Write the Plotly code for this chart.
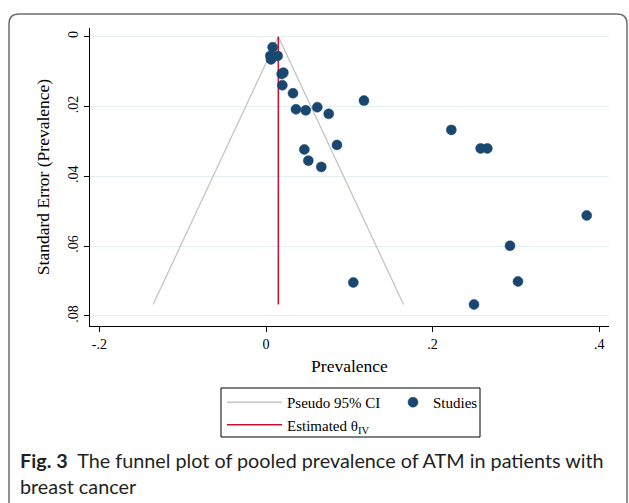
import plotly.graph_objects as go

# ---- data ----
prevalence = [0.0080, 0.0052, 0.0060, 0.0140, 0.0188, 0.0208, 0.0196, 0.0324, 0.0360,
              0.0477, 0.0616, 0.0753, 0.1176, 0.0460, 0.0508, 0.0664, 0.0852, 0.2225,
              0.2577, 0.2657, 0.3850, 0.2929, 0.1048, 0.3025, 0.2497]
std_error = [0.0030, 0.0055, 0.0065, 0.0055, 0.0107, 0.0103, 0.0139, 0.0162, 0.0208,
             0.0211, 0.0202, 0.0221, 0.0183, 0.0323, 0.0355, 0.0373, 0.0310, 0.0267,
             0.0320, 0.0320, 0.0512, 0.0599, 0.0704, 0.0701, 0.0767]
theta_iv = 0.0148
x_ticks = [-0.2, 0, 0.2, 0.4]
x_ticklabels = ["-.2", "0", ".2", ".4"]
y_ticks = [0, 0.02, 0.04, 0.06, 0.08]
y_ticklabels = ["0", ".02", ".04", ".06", ".08"]

max_se = max(std_error)
funnel_x = [theta_iv - 1.96 * max_se, theta_iv, theta_iv + 1.96 * max_se]
funnel_y = [max_se, 0, max_se]

# ---- layout geometry (pixels) ----
W, H = 629, 503
L, R, T, B = 90, 609, 28, 326
pw, ph = R - L, B - T


def px(x):
    return (x - L) / pw


def py(y):
    return (B - y) / ph


serif = "Liberation Serif, Times New Roman, serif"
navy = "#1a476f"
red = "#c8102e"
grey = "#c4c4c4"

fig = go.Figure()
fig.add_trace(go.Scatter(x=funnel_x, y=funnel_y, mode="lines", name="Pseudo 95% CI",
                         line=dict(color=grey, width=1.3), legend="legend"))
fig.add_trace(go.Scatter(x=[theta_iv, theta_iv], y=[0, max_se], mode="lines",
                         name="Estimated θ<sub>IV</sub>", line=dict(color=red, width=1.5),
                         legend="legend"))
fig.add_trace(go.Scatter(x=prevalence, y=std_error, mode="markers", name="Studies",
                         marker=dict(color=navy, size=10, line=dict(color=navy, width=0.5)),
                         legend="legend2"))

leg_font = dict(family=serif, size=15, color="black")
fig.update_layout(
    width=W, height=H,
    margin=dict(l=L, r=W - R, t=T, b=H - B, pad=0, autoexpand=False),
    paper_bgcolor="white", plot_bgcolor="white",
    font=dict(family=serif, color="black", size=14),
    showlegend=True,
    legend=dict(orientation="v", x=px(222), xanchor="left", y=py(386), yanchor="top",
                borderwidth=0, bgcolor="rgba(0,0,0,0)", font=leg_font, itemwidth=55,
                tracegroupgap=0),
    legend2=dict(orientation="v", x=px(393), xanchor="left", y=py(386), yanchor="top",
                 borderwidth=0, bgcolor="rgba(0,0,0,0)", font=leg_font, itemwidth=30),
    xaxis=dict(range=[(90 - 266) / 833, (609 - 266) / 833],
               tickvals=x_ticks, ticktext=x_ticklabels, showgrid=False, zeroline=False,
               showline=True, linecolor="black", linewidth=1, ticks="outside", ticklen=5,
               tickcolor="black", tickfont=dict(size=14, family=serif),
               title=dict(text="Prevalence", font=dict(size=17.5, family=serif), standoff=8)),
    yaxis=dict(range=[(326 - 36.7) / 3491, (28 - 36.7) / 3491],
               tickvals=y_ticks, ticktext=y_ticklabels, showgrid=True, gridcolor="#e3eef0",
               gridwidth=1, zeroline=False, showline=True, linecolor="black", linewidth=1,
               ticks="outside", ticklen=5, tickcolor="black", tickangle=-90,
               tickfont=dict(size=14, family=serif),
               title=dict(text="Standard Error (Prevalence)", font=dict(size=17.5, family=serif),
                          standoff=12)),
)

# legend frame
fig.add_shape(type="rect", xref="paper", yref="paper", x0=px(221), x1=px(480),
              y0=py(388), y1=py(437), line=dict(color="black", width=1),
              fillcolor="rgba(0,0,0,0)")

# outer rounded frame
x0, x1, y0, y1, r = px(9), px(627), py(14), py(510), 10
rx, ry = r / pw, r / ph
path = (f"M {x0},{y1} L {x0},{y0 - ry} Q {x0},{y0} {x0 + rx},{y0} "
        f"L {x1 - rx},{y0} Q {x1},{y0} {x1},{y0 - ry} L {x1},{y1}")
fig.add_shape(type="path", path=path, xref="paper", yref="paper",
              line=dict(color="#6e6e6e", width=1.5))

cap_font = dict(family="Lato, Noto Sans, sans-serif", size=19.8, color="#231f20")
fig.add_annotation(x=px(18), y=py(460), xref="paper", yref="paper", xanchor="left",
                   yanchor="middle", showarrow=False, font=cap_font,
                   text="<b>Fig. 3</b>  The funnel plot of pooled prevalence of ATM in patients with")
fig.add_annotation(x=px(18), y=py(486), xref="paper", yref="paper", xanchor="left",
                   yanchor="middle", showarrow=False, font=cap_font, text="breast cancer")

fig.write_html("out.html", config={"displayModeBar": False},
               post_script="document.body.style.margin='0';document.body.style.overflow='hidden';")
